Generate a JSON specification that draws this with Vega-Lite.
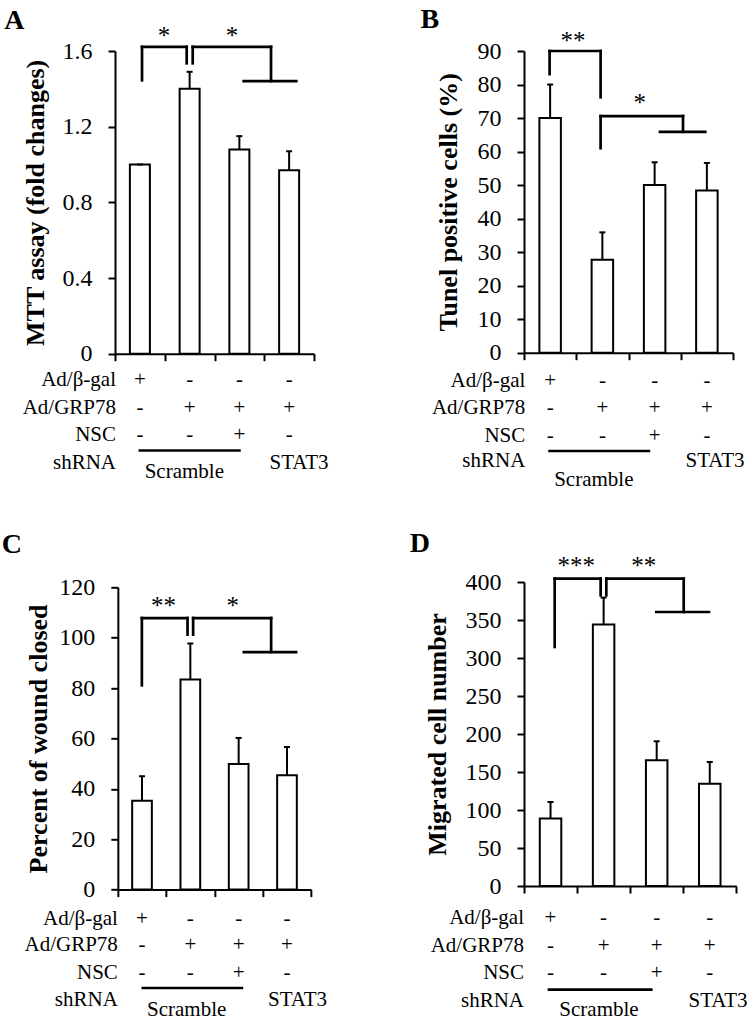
{
"$schema": "https://vega.github.io/schema/vega-lite/v6.json",
"padding": {"left": 1, "top": 6, "right": 0, "bottom": 0},
"bounds": "flush",
"spacing": 409,
"hconcat": [
 {"vconcat": [
  {"width": 199, "height": 302.7,
   "layer": [
    {"data": {"name": "A_bars"}, "mark": {"type": "bar", "size": 20, "fill": "white", "stroke": "black", "strokeWidth": 2, "opacity": 1},
     "encoding": {"x": {"field": "g", "type": "quantitative", "scale": {"domain": [0.5, 4.5], "nice": false, "zero": false, "padding": 0}, "axis": {"values": [0.5, 1.5, 2.5, 3.5, 4.5], "tickCount": 20, "labels": false, "title": null}},
                  "y": {"field": "mean", "type": "quantitative", "scale": {"domain": [0, 1.6], "nice": false}, "axis": {"values": [0, 0.4, 0.8, 1.2, 1.6], "tickCount": 20, "labelOverlap": false, "labelExpr": "datum.value == 0 ? '0' : format(datum.value, '.1f')", "title": "MTT assay (fold changes)", "titlePadding": 14}}}},
    {"data": {"name": "A_bars"}, "mark": {"type": "rule", "strokeWidth": 2, "color": "black", "opacity": 1},
     "encoding": {"x": {"field": "g", "type": "quantitative", "scale": {"domain": [0.5, 4.5], "nice": false, "zero": false, "padding": 0}},
                  "y": {"field": "mean", "type": "quantitative", "scale": {"domain": [0, 1.6], "nice": false}}, "y2": {"field": "upper"}}},
    {"data": {"name": "A_bars"}, "mark": {"type": "tick", "orient": "horizontal", "size": 6, "thickness": 2, "color": "black", "opacity": 1},
     "encoding": {"x": {"field": "g", "type": "quantitative", "scale": {"domain": [0.5, 4.5], "nice": false, "zero": false, "padding": 0}},
                  "y": {"field": "upper", "type": "quantitative", "scale": {"domain": [0, 1.6], "nice": false}}}},
    {"data": {"name": "A_lines"}, "mark": {"type": "rule", "strokeWidth": 2.7, "strokeCap": "square", "color": "black", "opacity": 1},
     "encoding": {"x": {"field": "x1", "type": "quantitative", "scale": {"domain": [0.5, 4.5], "nice": false, "zero": false, "padding": 0}}, "x2": {"field": "x2"},
                  "y": {"field": "y1", "type": "quantitative", "scale": {"domain": [0, 1.6], "nice": false}}, "y2": {"field": "y2"}}},
    {"data": {"name": "A_stars"}, "mark": {"type": "text", "fontSize": 25, "align": "center", "baseline": "alphabetic"},
     "encoding": {"x": {"field": "x", "type": "quantitative", "scale": {"domain": [0.5, 4.5], "nice": false, "zero": false, "padding": 0}},
                  "y": {"field": "y", "type": "quantitative", "scale": {"domain": [0, 1.6], "nice": false}}, "text": {"field": "t", "type": "nominal"}}},
    {"data": {"name": "A_center"}, "mark": {"type": "text", "fontSize": 21, "align": "center", "baseline": "alphabetic"},
     "encoding": {"x": {"field": "x", "type": "quantitative", "scale": {"domain": [0.5, 4.5], "nice": false, "zero": false, "padding": 0}},
                  "y": {"field": "y", "type": "quantitative", "scale": {"domain": [0, 1.6], "nice": false}}, "text": {"field": "t", "type": "nominal"}}},
    {"data": {"name": "A_labels"}, "mark": {"type": "text", "fontSize": 21, "align": "right", "baseline": "alphabetic"},
     "encoding": {"x": {"field": "x", "type": "quantitative", "scale": {"domain": [0.5, 4.5], "nice": false, "zero": false, "padding": 0}},
                  "y": {"field": "y", "type": "quantitative", "scale": {"domain": [0, 1.6], "nice": false}}, "text": {"field": "t", "type": "nominal"}}},
    {"data": {"name": "A_letter"}, "mark": {"type": "text", "fontSize": 28, "fontWeight": "bold", "align": "left", "baseline": "alphabetic"},
     "encoding": {"x": {"field": "x", "type": "quantitative", "scale": {"domain": [0.5, 4.5], "nice": false, "zero": false, "padding": 0}},
                  "y": {"field": "y", "type": "quantitative", "scale": {"domain": [0, 1.6], "nice": false}}, "text": {"field": "t", "type": "nominal"}}}
   ]},
  {"width": 193.3, "height": 302.3,
   "layer": [
    {"data": {"name": "C_bars"}, "mark": {"type": "bar", "size": 19.7, "fill": "white", "stroke": "black", "strokeWidth": 2, "opacity": 1},
     "encoding": {"x": {"field": "g", "type": "quantitative", "scale": {"domain": [0.5, 4.5], "nice": false, "zero": false, "padding": 0}, "axis": {"values": [0.5, 1.5, 2.5, 3.5, 4.5], "tickCount": 20, "labels": false, "title": null}},
                  "y": {"field": "mean", "type": "quantitative", "scale": {"domain": [0, 120], "nice": false}, "axis": {"values": [0, 20, 40, 60, 80, 100, 120], "tickCount": 20, "labelOverlap": false, "title": "Percent of wound closed", "titlePadding": 7}}}},
    {"data": {"name": "C_bars"}, "mark": {"type": "rule", "strokeWidth": 2, "color": "black", "opacity": 1},
     "encoding": {"x": {"field": "g", "type": "quantitative", "scale": {"domain": [0.5, 4.5], "nice": false, "zero": false, "padding": 0}},
                  "y": {"field": "mean", "type": "quantitative", "scale": {"domain": [0, 120], "nice": false}}, "y2": {"field": "upper"}}},
    {"data": {"name": "C_bars"}, "mark": {"type": "tick", "orient": "horizontal", "size": 6, "thickness": 2, "color": "black", "opacity": 1},
     "encoding": {"x": {"field": "g", "type": "quantitative", "scale": {"domain": [0.5, 4.5], "nice": false, "zero": false, "padding": 0}},
                  "y": {"field": "upper", "type": "quantitative", "scale": {"domain": [0, 120], "nice": false}}}},
    {"data": {"name": "C_lines"}, "mark": {"type": "rule", "strokeWidth": 2.7, "strokeCap": "square", "color": "black", "opacity": 1},
     "encoding": {"x": {"field": "x1", "type": "quantitative", "scale": {"domain": [0.5, 4.5], "nice": false, "zero": false, "padding": 0}}, "x2": {"field": "x2"},
                  "y": {"field": "y1", "type": "quantitative", "scale": {"domain": [0, 120], "nice": false}}, "y2": {"field": "y2"}}},
    {"data": {"name": "C_stars"}, "mark": {"type": "text", "fontSize": 25, "align": "center", "baseline": "alphabetic"},
     "encoding": {"x": {"field": "x", "type": "quantitative", "scale": {"domain": [0.5, 4.5], "nice": false, "zero": false, "padding": 0}},
                  "y": {"field": "y", "type": "quantitative", "scale": {"domain": [0, 120], "nice": false}}, "text": {"field": "t", "type": "nominal"}}},
    {"data": {"name": "C_center"}, "mark": {"type": "text", "fontSize": 21, "align": "center", "baseline": "alphabetic"},
     "encoding": {"x": {"field": "x", "type": "quantitative", "scale": {"domain": [0.5, 4.5], "nice": false, "zero": false, "padding": 0}},
                  "y": {"field": "y", "type": "quantitative", "scale": {"domain": [0, 120], "nice": false}}, "text": {"field": "t", "type": "nominal"}}},
    {"data": {"name": "C_labels"}, "mark": {"type": "text", "fontSize": 21, "align": "right", "baseline": "alphabetic"},
     "encoding": {"x": {"field": "x", "type": "quantitative", "scale": {"domain": [0.5, 4.5], "nice": false, "zero": false, "padding": 0}},
                  "y": {"field": "y", "type": "quantitative", "scale": {"domain": [0, 120], "nice": false}}, "text": {"field": "t", "type": "nominal"}}},
    {"data": {"name": "C_letter"}, "mark": {"type": "text", "fontSize": 28, "fontWeight": "bold", "align": "left", "baseline": "alphabetic"},
     "encoding": {"x": {"field": "x", "type": "quantitative", "scale": {"domain": [0.5, 4.5], "nice": false, "zero": false, "padding": 0}},
                  "y": {"field": "y", "type": "quantitative", "scale": {"domain": [0, 120], "nice": false}}, "text": {"field": "t", "type": "nominal"}}}
   ]}
 ], "spacing": 233.3, "bounds": "flush", "center": true},
 {"vconcat": [
  {"width": 209, "height": 301.7,
   "layer": [
    {"data": {"name": "B_bars"}, "mark": {"type": "bar", "size": 21.5, "fill": "white", "stroke": "black", "strokeWidth": 2, "opacity": 1},
     "encoding": {"x": {"field": "g", "type": "quantitative", "scale": {"domain": [0.5, 4.5], "nice": false, "zero": false, "padding": 0}, "axis": {"values": [0.5, 1.5, 2.5, 3.5, 4.5], "tickCount": 20, "labels": false, "title": null}},
                  "y": {"field": "mean", "type": "quantitative", "scale": {"domain": [0, 90], "nice": false}, "axis": {"values": [0, 10, 20, 30, 40, 50, 60, 70, 80, 90], "tickCount": 20, "labelOverlap": false, "title": "Tunel positive cells (%)", "titlePadding": 16}}}},
    {"data": {"name": "B_bars"}, "mark": {"type": "rule", "strokeWidth": 2, "color": "black", "opacity": 1},
     "encoding": {"x": {"field": "g", "type": "quantitative", "scale": {"domain": [0.5, 4.5], "nice": false, "zero": false, "padding": 0}},
                  "y": {"field": "mean", "type": "quantitative", "scale": {"domain": [0, 90], "nice": false}}, "y2": {"field": "upper"}}},
    {"data": {"name": "B_bars"}, "mark": {"type": "tick", "orient": "horizontal", "size": 6, "thickness": 2, "color": "black", "opacity": 1},
     "encoding": {"x": {"field": "g", "type": "quantitative", "scale": {"domain": [0.5, 4.5], "nice": false, "zero": false, "padding": 0}},
                  "y": {"field": "upper", "type": "quantitative", "scale": {"domain": [0, 90], "nice": false}}}},
    {"data": {"name": "B_lines"}, "mark": {"type": "rule", "strokeWidth": 2.7, "strokeCap": "square", "color": "black", "opacity": 1},
     "encoding": {"x": {"field": "x1", "type": "quantitative", "scale": {"domain": [0.5, 4.5], "nice": false, "zero": false, "padding": 0}}, "x2": {"field": "x2"},
                  "y": {"field": "y1", "type": "quantitative", "scale": {"domain": [0, 90], "nice": false}}, "y2": {"field": "y2"}}},
    {"data": {"name": "B_stars"}, "mark": {"type": "text", "fontSize": 25, "align": "center", "baseline": "alphabetic"},
     "encoding": {"x": {"field": "x", "type": "quantitative", "scale": {"domain": [0.5, 4.5], "nice": false, "zero": false, "padding": 0}},
                  "y": {"field": "y", "type": "quantitative", "scale": {"domain": [0, 90], "nice": false}}, "text": {"field": "t", "type": "nominal"}}},
    {"data": {"name": "B_center"}, "mark": {"type": "text", "fontSize": 21, "align": "center", "baseline": "alphabetic"},
     "encoding": {"x": {"field": "x", "type": "quantitative", "scale": {"domain": [0.5, 4.5], "nice": false, "zero": false, "padding": 0}},
                  "y": {"field": "y", "type": "quantitative", "scale": {"domain": [0, 90], "nice": false}}, "text": {"field": "t", "type": "nominal"}}},
    {"data": {"name": "B_labels"}, "mark": {"type": "text", "fontSize": 21, "align": "right", "baseline": "alphabetic"},
     "encoding": {"x": {"field": "x", "type": "quantitative", "scale": {"domain": [0.5, 4.5], "nice": false, "zero": false, "padding": 0}},
                  "y": {"field": "y", "type": "quantitative", "scale": {"domain": [0, 90], "nice": false}}, "text": {"field": "t", "type": "nominal"}}},
    {"data": {"name": "B_letter"}, "mark": {"type": "text", "fontSize": 28, "fontWeight": "bold", "align": "left", "baseline": "alphabetic"},
     "encoding": {"x": {"field": "x", "type": "quantitative", "scale": {"domain": [0.5, 4.5], "nice": false, "zero": false, "padding": 0}},
                  "y": {"field": "y", "type": "quantitative", "scale": {"domain": [0, 90], "nice": false}}, "text": {"field": "t", "type": "nominal"}}}
   ]},
  {"width": 212.3, "height": 304,
   "layer": [
    {"data": {"name": "D_bars"}, "mark": {"type": "bar", "size": 21.5, "fill": "white", "stroke": "black", "strokeWidth": 2, "opacity": 1},
     "encoding": {"x": {"field": "g", "type": "quantitative", "scale": {"domain": [0.5, 4.5], "nice": false, "zero": false, "padding": 0}, "axis": {"values": [0.5, 1.5, 2.5, 3.5, 4.5], "tickCount": 20, "labels": false, "title": null}},
                  "y": {"field": "mean", "type": "quantitative", "scale": {"domain": [0, 400], "nice": false}, "axis": {"values": [0, 50, 100, 150, 200, 250, 300, 350, 400], "tickCount": 20, "labelOverlap": false, "title": "Migrated cell number", "titlePadding": 15}}}},
    {"data": {"name": "D_bars"}, "mark": {"type": "rule", "strokeWidth": 2, "color": "black", "opacity": 1},
     "encoding": {"x": {"field": "g", "type": "quantitative", "scale": {"domain": [0.5, 4.5], "nice": false, "zero": false, "padding": 0}},
                  "y": {"field": "mean", "type": "quantitative", "scale": {"domain": [0, 400], "nice": false}}, "y2": {"field": "upper"}}},
    {"data": {"name": "D_bars"}, "mark": {"type": "tick", "orient": "horizontal", "size": 6, "thickness": 2, "color": "black", "opacity": 1},
     "encoding": {"x": {"field": "g", "type": "quantitative", "scale": {"domain": [0.5, 4.5], "nice": false, "zero": false, "padding": 0}},
                  "y": {"field": "upper", "type": "quantitative", "scale": {"domain": [0, 400], "nice": false}}}},
    {"data": {"name": "D_lines"}, "mark": {"type": "rule", "strokeWidth": 2.7, "strokeCap": "square", "color": "black", "opacity": 1},
     "encoding": {"x": {"field": "x1", "type": "quantitative", "scale": {"domain": [0.5, 4.5], "nice": false, "zero": false, "padding": 0}}, "x2": {"field": "x2"},
                  "y": {"field": "y1", "type": "quantitative", "scale": {"domain": [0, 400], "nice": false}}, "y2": {"field": "y2"}}},
    {"data": {"name": "D_stars"}, "mark": {"type": "text", "fontSize": 25, "align": "center", "baseline": "alphabetic"},
     "encoding": {"x": {"field": "x", "type": "quantitative", "scale": {"domain": [0.5, 4.5], "nice": false, "zero": false, "padding": 0}},
                  "y": {"field": "y", "type": "quantitative", "scale": {"domain": [0, 400], "nice": false}}, "text": {"field": "t", "type": "nominal"}}},
    {"data": {"name": "D_center"}, "mark": {"type": "text", "fontSize": 21, "align": "center", "baseline": "alphabetic"},
     "encoding": {"x": {"field": "x", "type": "quantitative", "scale": {"domain": [0.5, 4.5], "nice": false, "zero": false, "padding": 0}},
                  "y": {"field": "y", "type": "quantitative", "scale": {"domain": [0, 400], "nice": false}}, "text": {"field": "t", "type": "nominal"}}},
    {"data": {"name": "D_labels"}, "mark": {"type": "text", "fontSize": 21, "align": "right", "baseline": "alphabetic"},
     "encoding": {"x": {"field": "x", "type": "quantitative", "scale": {"domain": [0.5, 4.5], "nice": false, "zero": false, "padding": 0}},
                  "y": {"field": "y", "type": "quantitative", "scale": {"domain": [0, 400], "nice": false}}, "text": {"field": "t", "type": "nominal"}}},
    {"data": {"name": "D_letter"}, "mark": {"type": "text", "fontSize": 28, "fontWeight": "bold", "align": "left", "baseline": "alphabetic"},
     "encoding": {"x": {"field": "x", "type": "quantitative", "scale": {"domain": [0.5, 4.5], "nice": false, "zero": false, "padding": 0}},
                  "y": {"field": "y", "type": "quantitative", "scale": {"domain": [0, 400], "nice": false}}, "text": {"field": "t", "type": "nominal"}}}
   ]}
 ], "spacing": 229, "bounds": "flush"}
],
"datasets": {
 "A_bars": [{"g": 1, "mean": 1.0, "upper": 1.0}, {"g": 2, "mean": 1.40, "upper": 1.49}, {"g": 3, "mean": 1.08, "upper": 1.15}, {"g": 4, "mean": 0.97, "upper": 1.07}],
 "A_lines": [
  {"x1": 1.043, "x2": 1.043, "y1": 1.445, "y2": 1.622},
  {"x1": 1.043, "x2": 1.941, "y1": 1.622, "y2": 1.622},
  {"x1": 1.941, "x2": 1.941, "y1": 1.622, "y2": 1.535},
  {"x1": 2.062, "x2": 2.062, "y1": 1.535, "y2": 1.622},
  {"x1": 2.062, "x2": 3.636, "y1": 1.622, "y2": 1.622},
  {"x1": 3.636, "x2": 3.636, "y1": 1.622, "y2": 1.441},
  {"x1": 3.087, "x2": 4.144, "y1": 1.441, "y2": 1.441},
  {"x1": 1.0, "x2": 3.0, "y1": -0.5117, "y2": -0.5117}],
 "A_stars": [{"x": 1.485, "y": 1.639, "t": "*"}, {"x": 2.852, "y": 1.639, "t": "*"}],
 "A_center": [
  {"x": 1, "y": -0.1707, "t": "+"}, {"x": 2, "y": -0.1707, "t": "-"}, {"x": 3, "y": -0.1707, "t": "-"}, {"x": 4, "y": -0.1707, "t": "-"},
  {"x": 1, "y": -0.3171, "t": "-"}, {"x": 2, "y": -0.3171, "t": "+"}, {"x": 3, "y": -0.3171, "t": "+"}, {"x": 4, "y": -0.3171, "t": "+"},
  {"x": 1, "y": -0.4614, "t": "-"}, {"x": 2, "y": -0.4614, "t": "-"}, {"x": 3, "y": -0.4614, "t": "+"}, {"x": 4, "y": -0.4614, "t": "-"},
  {"x": 1.893, "y": -0.657, "t": "Scramble"}, {"x": 4.198, "y": -0.6094, "t": "STAT3"}],
 "A_labels": [{"x": 0.52, "y": -0.1707, "t": "Ad/β-gal"}, {"x": 0.52, "y": -0.3171, "t": "Ad/GRP78"}, {"x": 0.52, "y": -0.4614, "t": "NSC"}, {"x": 0.52, "y": -0.6094, "t": "shRNA"}],
 "A_letter": [{"x": -1.725, "y": 1.7147, "t": "A"}],
 "B_bars": [{"g": 1, "mean": 70, "upper": 80}, {"g": 2, "mean": 27.7, "upper": 35.9}, {"g": 3, "mean": 50, "upper": 56.8}, {"g": 4, "mean": 48.4, "upper": 56.6}],
 "B_lines": [
  {"x1": 0.99, "x2": 0.99, "y1": 83.1, "y2": 90.0},
  {"x1": 0.99, "x2": 1.966, "y1": 90.0, "y2": 90.0},
  {"x1": 1.966, "x2": 1.966, "y1": 90.0, "y2": 76.2},
  {"x1": 1.966, "x2": 1.966, "y1": 61.0, "y2": 70.6},
  {"x1": 1.966, "x2": 3.543, "y1": 70.6, "y2": 70.6},
  {"x1": 3.543, "x2": 3.543, "y1": 70.6, "y2": 65.9},
  {"x1": 3.103, "x2": 3.97, "y1": 65.9, "y2": 65.9},
  {"x1": 0.99, "x2": 2.89, "y1": -29.32, "y2": -29.32}],
 "B_stars": [{"x": 1.438, "y": 90.5, "t": "**"}, {"x": 2.713, "y": 72.2, "t": "*"}],
 "B_center": [
  {"x": 1, "y": -10.14, "t": "+"}, {"x": 2, "y": -10.14, "t": "-"}, {"x": 3, "y": -10.14, "t": "-"}, {"x": 4, "y": -10.14, "t": "-"},
  {"x": 1, "y": -18.38, "t": "-"}, {"x": 2, "y": -18.38, "t": "+"}, {"x": 3, "y": -18.38, "t": "+"}, {"x": 4, "y": -18.38, "t": "+"},
  {"x": 1, "y": -26.55, "t": "-"}, {"x": 2, "y": -26.55, "t": "-"}, {"x": 3, "y": -26.55, "t": "+"}, {"x": 4, "y": -26.55, "t": "-"},
  {"x": 1.836, "y": -39.77, "t": "Scramble"}, {"x": 4.155, "y": -34.1, "t": "STAT3"}],
 "B_labels": [{"x": 0.525, "y": -10.14, "t": "Ad/β-gal"}, {"x": 0.525, "y": -18.38, "t": "Ad/GRP78"}, {"x": 0.525, "y": -26.55, "t": "NSC"}, {"x": 0.525, "y": -34.1, "t": "shRNA"}],
 "B_letter": [{"x": -1.479, "y": 96.77, "t": "B"}],
 "C_bars": [{"g": 1, "mean": 35.3, "upper": 45.0}, {"g": 2, "mean": 83.4, "upper": 97.7}, {"g": 3, "mean": 49.9, "upper": 60.2}, {"g": 4, "mean": 45.4, "upper": 56.6}],
 "C_lines": [
  {"x1": 0.997, "x2": 0.997, "y1": 81.1, "y2": 107.8},
  {"x1": 0.997, "x2": 1.942, "y1": 107.8, "y2": 107.8},
  {"x1": 1.942, "x2": 1.942, "y1": 107.8, "y2": 101.2},
  {"x1": 2.058, "x2": 2.058, "y1": 101.2, "y2": 107.8},
  {"x1": 2.058, "x2": 3.672, "y1": 107.8, "y2": 107.8},
  {"x1": 3.672, "x2": 3.672, "y1": 107.8, "y2": 94.3},
  {"x1": 3.107, "x2": 4.189, "y1": 94.3, "y2": 94.3},
  {"x1": 1.017, "x2": 3.066, "y1": -39.06, "y2": -39.06}],
 "C_stars": [{"x": 1.445, "y": 109.5, "t": "**"}, {"x": 2.879, "y": 109.5, "t": "*"}],
 "C_center": [
  {"x": 1, "y": -13.89, "t": "+"}, {"x": 2, "y": -13.89, "t": "-"}, {"x": 3, "y": -13.89, "t": "-"}, {"x": 4, "y": -13.89, "t": "-"},
  {"x": 1, "y": -24.49, "t": "-"}, {"x": 2, "y": -24.49, "t": "+"}, {"x": 3, "y": -24.49, "t": "+"}, {"x": 4, "y": -24.49, "t": "+"},
  {"x": 1, "y": -35.33, "t": "-"}, {"x": 2, "y": -35.33, "t": "-"}, {"x": 3, "y": -35.33, "t": "+"}, {"x": 4, "y": -35.33, "t": "-"},
  {"x": 1.924, "y": -50.29, "t": "Scramble"}, {"x": 4.218, "y": -46.32, "t": "STAT3"}],
 "C_labels": [{"x": 0.5, "y": -13.89, "t": "Ad/β-gal"}, {"x": 0.5, "y": -24.49, "t": "Ad/GRP78"}, {"x": 0.5, "y": -35.33, "t": "NSC"}, {"x": 0.5, "y": -46.32, "t": "shRNA"}],
 "C_letter": [{"x": -1.9, "y": 133.6, "t": "C"}],
 "D_bars": [{"g": 1, "mean": 88.7, "upper": 110.5}, {"g": 2, "mean": 344, "upper": 379.5}, {"g": 3, "mean": 165.4, "upper": 190.4}, {"g": 4, "mean": 134.7, "upper": 163.2}],
 "D_lines": [
  {"x1": 1.078, "x2": 1.078, "y1": 314.5, "y2": 404.5},
  {"x1": 1.078, "x2": 1.944, "y1": 404.5, "y2": 404.5},
  {"x1": 1.944, "x2": 1.944, "y1": 404.5, "y2": 382.5},
  {"x1": 2.051, "x2": 2.051, "y1": 382.5, "y2": 404.5},
  {"x1": 2.051, "x2": 3.509, "y1": 404.5, "y2": 404.5},
  {"x1": 3.509, "x2": 3.509, "y1": 404.5, "y2": 360.5},
  {"x1": 2.993, "x2": 3.985, "y1": 360.5, "y2": 360.5},
  {"x1": 0.971, "x2": 2.898, "y1": -136.3, "y2": -136.3}],
 "D_stars": [{"x": 1.486, "y": 409.9, "t": "***"}, {"x": 2.755, "y": 409.9, "t": "**"}],
 "D_center": [
  {"x": 1, "y": -49.47, "t": "+"}, {"x": 2, "y": -49.47, "t": "-"}, {"x": 3, "y": -49.47, "t": "-"}, {"x": 4, "y": -49.47, "t": "-"},
  {"x": 1, "y": -86.84, "t": "-"}, {"x": 2, "y": -86.84, "t": "+"}, {"x": 3, "y": -86.84, "t": "+"}, {"x": 4, "y": -86.84, "t": "+"},
  {"x": 1, "y": -121.84, "t": "-"}, {"x": 2, "y": -121.84, "t": "-"}, {"x": 3, "y": -121.84, "t": "+"}, {"x": 4, "y": -121.84, "t": "-"},
  {"x": 1.913, "y": -171.4, "t": "Scramble"}, {"x": 4.155, "y": -159.2, "t": "STAT3"}],
 "D_labels": [{"x": 0.5, "y": -49.47, "t": "Ad/β-gal"}, {"x": 0.5, "y": -86.84, "t": "Ad/GRP78"}, {"x": 0.5, "y": -121.84, "t": "NSC"}, {"x": 0.5, "y": -159.2, "t": "shRNA"}],
 "D_letter": [{"x": -1.653, "y": 439.5, "t": "D"}]
},
"config": {
 "font": "Liberation Serif",
 "view": {"stroke": null},
 "axis": {"domainColor": "black", "domainWidth": 2, "tickColor": "black", "tickWidth": 2, "tickSize": 7, "labelFont": "Liberation Serif", "labelFontSize": 24, "labelColor": "black", "labelPadding": 16, "labelOverlap": false, "titleFont": "Liberation Serif", "titleFontSize": 26, "titleFontWeight": "bold", "titleColor": "black", "grid": false},
 "text": {"font": "Liberation Serif", "color": "black"}
}
}
